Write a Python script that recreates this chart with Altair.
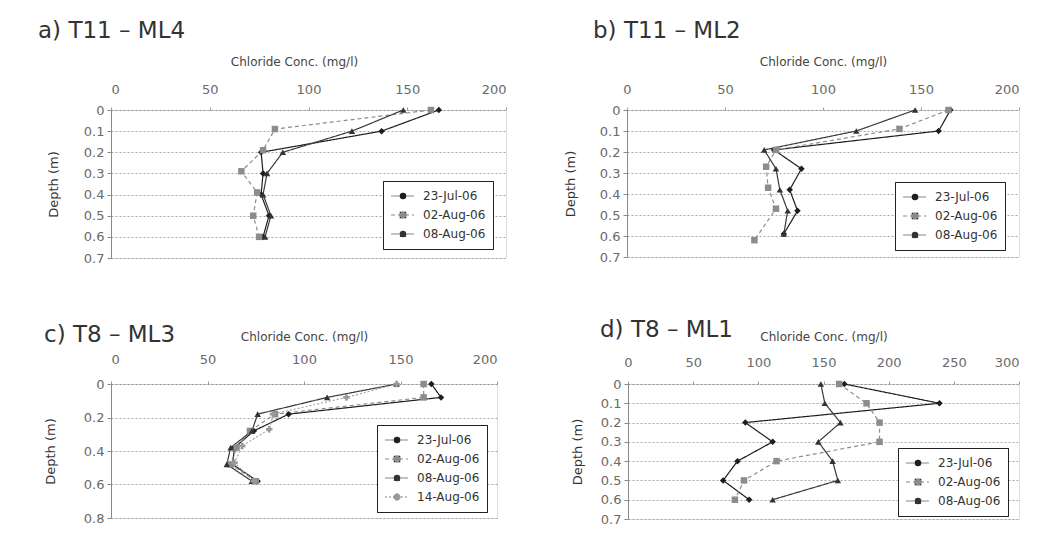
import altair as alt
import pandas as pd

FONT = "DejaVu Sans"

SERIES3 = ["23-Jul-06", "02-Aug-06", "08-Aug-06"]
SERIES4 = ["23-Jul-06", "02-Aug-06", "08-Aug-06", "14-Aug-06"]

# ---- a) T11 - ML4 ----
a_d_jul23 = [0, 0.1, 0.2, 0.3, 0.4, 0.5, 0.6]
a_jul23 = [166, 137, 76, 77, 76, 80, 77]
a_d_aug02 = [0, 0.09, 0.19, 0.29, 0.39, 0.5, 0.6]
a_aug02 = [162, 83, 77, 66, 74, 72, 75]
a_d_aug08 = [0, 0.1, 0.2, 0.3, 0.4, 0.5, 0.6]
a_aug08 = [148, 122, 87, 79, 77, 81, 78]

# ---- b) T11 - ML2 ----
b_d_jul23 = [0, 0.1, 0.19, 0.28, 0.38, 0.48, 0.59]
b_jul23 = [165, 159, 75, 89, 83, 87, 80]
b_d_aug02 = [0, 0.09, 0.19, 0.27, 0.37, 0.47, 0.62]
b_aug02 = [164, 139, 76, 71, 72, 76, 65]
b_d_aug08 = [0, 0.1, 0.19, 0.28, 0.38, 0.48, 0.59]
b_aug08 = [147, 117, 70, 76, 78, 82, 80]

# ---- c) T8 - ML3 ----
c_d = [0, 0.08, 0.18, 0.28, 0.38, 0.48, 0.58]
c_jul23 = [166, 171, 92, 74, 64, 63, 76]
c_aug02 = [162, 162, 85, 72, 65, 62, 75]
c_aug08 = [148, 112, 76, 73, 62, 60, 73]
c_d_aug14 = [0, 0.08, 0.18, 0.27, 0.37, 0.47, 0.58]
c_aug14 = [148, 122, 84, 82, 68, 64, 74]

# ---- d) T8 - ML1 ----
d_d = [0, 0.1, 0.2, 0.3, 0.4, 0.5, 0.6]
d_jul23 = [166, 239, 90, 111, 84, 73, 93]
d_aug02 = [162, 183, 193, 193, 114, 89, 82]
d_aug08 = [148, 151, 163, 146, 157, 161, 111]

STROKE = {"23-Jul-06": "#1e1e1e", "02-Aug-06": "#8c8c8c",
          "08-Aug-06": "#3a3a3a", "14-Aug-06": "#a5a5a5"}
DASH = {"23-Jul-06": [1, 0], "02-Aug-06": [4, 3],
        "08-Aug-06": [1, 0], "14-Aug-06": [2, 2]}
SHAPE = {"23-Jul-06": "diamond", "02-Aug-06": "square",
         "08-Aug-06": "triangle-up", "14-Aug-06": "cross"}
FILL = {"23-Jul-06": "#1e1e1e", "02-Aug-06": "#8c8c8c",
        "08-Aug-06": "#333333", "14-Aug-06": "#9a9a9a"}


def make_df(parts):
    rows = []
    for name, depths, vals in parts:
        for d, v in zip(depths, vals):
            rows.append({"series": name, "series_pt": name, "depth": d, "conc": v})
    return pd.DataFrame(rows)


def panel(title, df, names, xmax, xstep, ymax, ystep, w, h, lx, ly,
          ytp, xlp, xtp, tdx, tdy, toff, flush_last=False, xtitle_x=None):
    nticks = int(round(ymax / ystep))
    yvals = [round(i * ystep, 2) for i in range(nticks + 1)]
    xkw = {}
    if flush_last:
        xkw["labelAlign"] = {"condition": {"test": "datum.value == %d" % xmax,
                                           "value": "right"}, "value": "center"}
    if xtitle_x is not None:
        xkw["titleX"] = xtitle_x
    x = alt.X("conc:Q",
              scale=alt.Scale(domain=[0, xmax], nice=False, zero=True),
              axis=alt.Axis(orient="top", values=list(range(0, xmax + 1, xstep)),
                            title="Chloride Conc. (mg/l)", grid=False,
                            labelFont=FONT, labelFontSize=13, labelColor="#6a6a6a",
                            labelPadding=xlp, tickSize=3, tickColor="#9a9a9a",
                            domainColor="#9a9a9a", domainDash=[2, 2],
                            titleFont=FONT, titleFontSize=12, titleFontWeight="normal",
                            titleColor="#444444", titlePadding=xtp, **xkw))
    y = alt.Y("depth:Q",
              scale=alt.Scale(domain=[0, ymax], reverse=True, nice=False),
              axis=alt.Axis(values=yvals, format="~g", title="Depth (m)",
                            grid=True, gridColor="#a8a8a8", gridDash=[2, 2],
                            labelFont=FONT, labelFontSize=13, labelColor="#6a6a6a",
                            labelPadding=3, tickSize=4, tickColor="#8a8a8a",
                            domainColor="#8a8a8a",
                            titleFont=FONT, titleFontSize=13, titleFontWeight="normal",
                            titleColor="#333333", titlePadding=ytp))
    leg_line = alt.Legend(orient="none", legendX=lx, legendY=ly, title=None,
                          symbolType="stroke", symbolSize=529, symbolStrokeWidth=1.2,
                          clipHeight=16, labelFont=FONT, labelFontSize=12,
                          labelColor="#333333", labelOffset=8, padding=7,
                          rowPadding=3, fillColor="white", strokeColor="#222222",
                          zindex=1)
    leg_pt = alt.Legend(orient="none", legendX=lx, legendY=ly, title=None,
                        symbolSize=42, symbolStrokeWidth=0, symbolOffset=7,
                        clipHeight=16, labelFont=FONT, labelFontSize=12,
                        labelExpr="' '", labelOffset=8, padding=7, rowPadding=3,
                        zindex=2)
    base = alt.Chart(df)
    lines = base.mark_line(strokeWidth=1.2).encode(
        x=x, y=y, order=alt.Order("depth:Q"),
        stroke=alt.Stroke("series:N", sort=names,
                          scale=alt.Scale(range=[STROKE[n] for n in names]),
                          legend=leg_line),
        strokeDash=alt.StrokeDash("series:N", sort=names,
                                  scale=alt.Scale(range=[DASH[n] for n in names]),
                                  legend=leg_line),
    )
    pts = base.mark_point(filled=True, size=42, strokeWidth=0, opacity=1).encode(
        x=x, y=y,
        fill=alt.Fill("series_pt:N", sort=names,
                      scale=alt.Scale(range=[FILL[n] for n in names]),
                      legend=leg_pt),
        shape=alt.Shape("series_pt:N", sort=names,
                        scale=alt.Scale(range=[SHAPE[n] for n in names]),
                        legend=leg_pt),
    )
    return alt.layer(lines, pts).properties(
        width=w, height=h,
        title=alt.TitleParams(title, anchor="start", frame="group", font=FONT,
                              fontSize=23, fontWeight="normal", color="#333333",
                              dx=tdx, dy=tdy, offset=toff),
    )


df_a = make_df([("23-Jul-06", a_d_jul23, a_jul23), ("02-Aug-06", a_d_aug02, a_aug02),
                ("08-Aug-06", a_d_aug08, a_aug08)])
df_b = make_df([("23-Jul-06", b_d_jul23, b_jul23), ("02-Aug-06", b_d_aug02, b_aug02),
                ("08-Aug-06", b_d_aug08, b_aug08)])
df_c = make_df([("23-Jul-06", c_d, c_jul23), ("02-Aug-06", c_d, c_aug02),
                ("08-Aug-06", c_d, c_aug08), ("14-Aug-06", c_d_aug14, c_aug14)])
df_d = make_df([("23-Jul-06", d_d, d_jul23), ("02-Aug-06", d_d, d_aug02),
                ("08-Aug-06", d_d, d_aug08)])

pa = panel("a) T11 \u2013 ML4", df_a, SERIES3, 200, 50, 0.7, 0.1, 395, 148,
           272, 71, 23, 11, 15, -73, 0, 12, xtitle_x=183)
pb = panel("b) T11 \u2013 ML2", df_b, SERIES3, 200, 50, 0.7, 0.1, 392, 147,
           268, 72, 22, 11, 15, -34, 0, 12, flush_last=True)
pc = panel("c) T8 \u2013 ML3", df_c, SERIES4, 200, 50, 0.8, 0.2, 386, 134,
           266, 41, 26, 15, 10, -67, 17, 0)
pd_ = panel("d) T8 \u2013 ML1", df_d, SERIES3, 300, 50, 0.7, 0.1, 391, 135,
            270, 64, 16, 12, 13, -28, 12, 0, flush_last=True)

RES = dict(stroke="independent", strokeDash="independent", fill="independent",
           shape="independent", x="independent", y="independent")
LRES = dict(stroke="independent", strokeDash="independent", fill="independent",
            shape="independent")

top = alt.hconcat(pa, pb, spacing=56).resolve_scale(**RES).resolve_legend(**LRES)
bottom = alt.hconcat(pc, pd_, spacing=72).resolve_scale(**RES).resolve_legend(**LRES)

chart = alt.vconcat(top, bottom, spacing=52).resolve_scale(**RES).resolve_legend(
    **LRES
).properties(padding={"left": 29, "top": 11, "right": 0, "bottom": 3}).configure_view(
    stroke="#b0b0b0", strokeDash=[2, 2], strokeWidth=1
).configure(background="white")

chart.save("out.html", embed_options={"renderer": "svg", "actions": False})
